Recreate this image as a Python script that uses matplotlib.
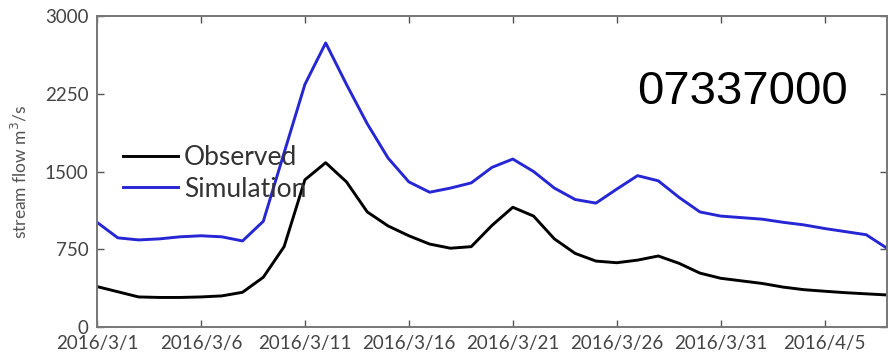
import numpy as np
import pandas as pd
import matplotlib
matplotlib.use("Agg")
import matplotlib.pyplot as plt
import matplotlib.dates as mdates

# daily values, 2016/3/1 .. 2016/4/8
dates = pd.date_range("2016-03-01", "2016-04-08", freq="D")
observed = [390, 340, 290, 285, 285, 290, 300, 335, 480, 775,
            1420, 1585, 1400, 1110, 975, 880, 800, 760, 775, 980,
            1155, 1070, 850, 710, 636, 620, 645, 685, 614, 520,
            470, 445, 420, 385, 360, 345, 331, 320, 309]
simulation = [1010, 860, 840, 850, 870, 880, 870, 830, 1020, 1680,
              2340, 2740, 2340, 1960, 1630, 1400, 1300, 1340, 1390, 1540,
              1620, 1500, 1340, 1230, 1195, 1330, 1460, 1410, 1250, 1110,
              1070, 1055, 1040, 1010, 985, 950, 920, 890, 760]
xticks = pd.date_range("2016-03-01", "2016-04-05", freq="5D")
yticks = [0, 750, 1500, 2250, 3000]
station = "07337000"

grey = "#555555"
plt.rcParams["font.family"] = ["Lato", "DejaVu Sans"]

fig = plt.figure(figsize=(8.88, 3.6), dpi=100)
ax = fig.add_axes([97 / 888, 1 - 327 / 360, 790 / 888, 311 / 360])

ax.plot(dates, observed, color="black", lw=2.1, label="Observed")
ax.plot(dates, simulation, color="#2626d4", lw=2.1, label="Simulation")

ax.set_xlim(dates[0], dates[-1])
ax.set_ylim(0, 3000)
ax.set_xticks(xticks)
ax.set_xticklabels([f"{d.year}/{d.month}/{d.day}" for d in xticks])
ax.set_yticks(yticks)
ax.tick_params(direction="in", length=5, width=1, colors=grey,
               labelcolor="#444444", labelsize=13.5, top=True, right=True,
               pad=6)
for s in ax.spines.values():
    s.set_color("#777777")
    s.set_linewidth(1.4)

ax.set_ylabel("stream flow m$^3$/s", fontsize=12.5, color="#555555", labelpad=11)

leg = ax.legend(loc="upper left", bbox_to_anchor=(0.033, 0.585), frameon=False,
                fontsize=19, handlelength=2.1, handletextpad=0.2,
                labelspacing=0.25, borderpad=0, borderaxespad=0)
for t in leg.get_texts():
    t.set_color("#333333")

ax.text(0.951, 0.757, station, transform=ax.transAxes, ha="right", va="center",
        fontsize=34, family="Liberation Sans", color="black")

fig.savefig("out.png", dpi=100)
